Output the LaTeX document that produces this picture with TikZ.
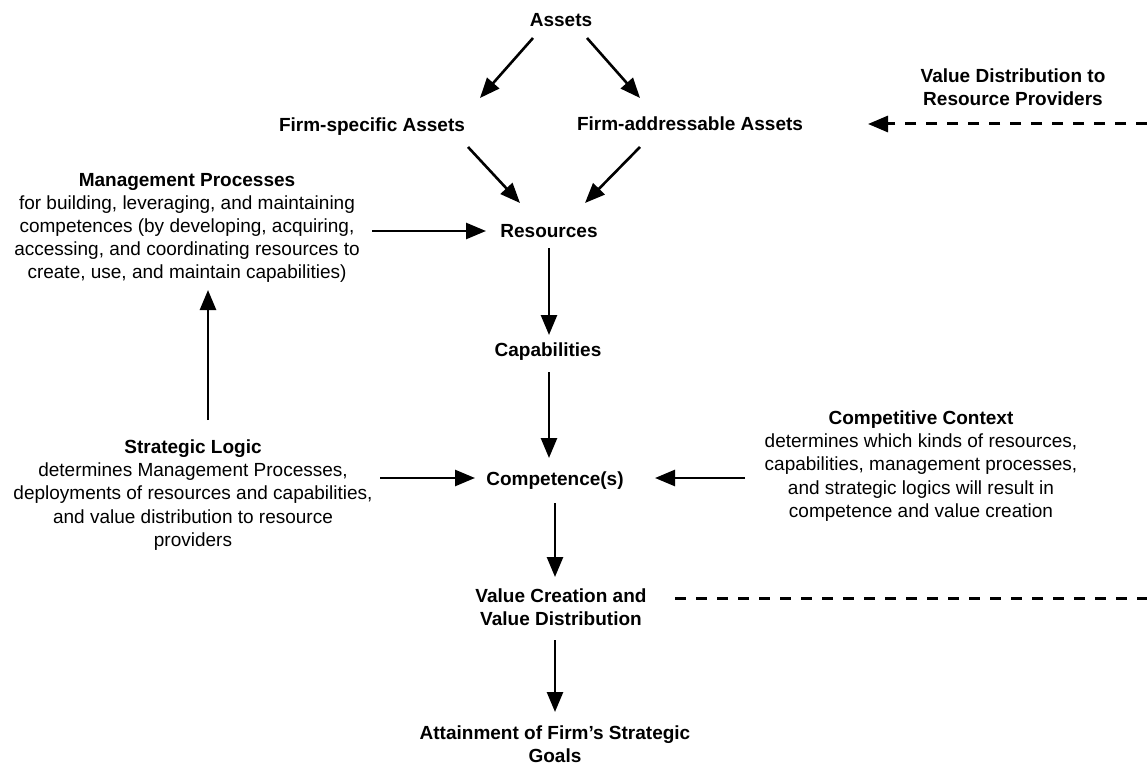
\documentclass[tikz,border=0pt]{standalone}
\usepackage{fontspec}
\setmainfont{Liberation Sans}
\usetikzlibrary{arrows.meta}

\begin{document}
\begin{tikzpicture}[x=0.5pt,y=-0.5pt,
        head/.style={font=\fontsize{9.5}{11.6}\selectfont\bfseries,align=center,inner sep=0pt},
        body/.style={font=\fontsize{9.5}{11.6}\selectfont,align=center,inner sep=0pt},
        arr/.style={line width=1.3pt,-{Triangle[length=10pt,width=8pt]}},
        dashline/.style={line width=1.5pt,dash pattern=on 5.5pt off 5pt}]
        \useasboundingbox (0,0) rectangle (1147,765);
        %% Assets
        \node[head] (assets) at (561,20) {Assets};
        \node[head] (fspec) at (372,127) {Firm-specific Assets};
        \node[head] (faddr) at (690,124) {Firm-addressable Assets};
        \node[head] (vdist) at (1013,87) {Value Distribution to\\Resource Providers};
        %% Main column
        \node[head] (res) at (549,231) {Resources};
        \node[head] (cap) at (548,352) {Capabilities};
        \node[head] (comp) at (555,481) {Competence(s)};
        \node[head] (value) at (561,607) {Value Creation and\\Value Distribution};
        \node[head] (attain) at (555,744) {Attainment of Firm’s Strategic\\Goals};
        %% Side texts
        \node[body] (mgmt) at (187,228) {\textbf{Management Processes}\\for building, leveraging, and maintaining\\competences (by developing, acquiring,\\accessing, and coordinating resources to\\create, use, and maintain capabilities)};
        \node[body] (slogic) at (193,495) {\textbf{Strategic Logic}\\determines Management Processes,\\deployments of resources and capabilities,\\and value distribution to resource\\providers};
        \node[body] (ccontext) at (921,466) {\textbf{Competitive Context}\\determines which kinds of resources,\\capabilities, management processes,\\and strategic logics will result in\\competence and value creation};
        \coordinate (vdtop) at (1147,124);
        \coordinate (vdbot) at (1147,598);
        %% Arrows
        \draw[arr] ([shift={(-28,18)}]assets.center) -- ([shift={(108,-29)}]fspec.center);
        \draw[arr] ([shift={(26,18)}]assets.center) -- ([shift={(-50,-26)}]faddr.center);
        \draw[arr] ([shift={(96,20)}]fspec.center) -- ([shift={(-29,-28)}]res.center);
        \draw[arr] ([shift={(-50,23)}]faddr.center) -- ([shift={(36,-28)}]res.center);
        \draw[arr] ([shift={(185,3)}]mgmt.center) -- ([shift={(-63,0)}]res.center);
        \draw[arr] ([shift={(0,17)}]res.center) -- ([shift={(1,-17)}]cap.center);
        \draw[arr] ([shift={(1,20)}]cap.center) -- ([shift={(-6,-23)}]comp.center);
        \draw[arr] ([shift={(15,-75)}]slogic.center) -- ([shift={(21,62)}]mgmt.center);
        \draw[arr] ([shift={(187,-17)}]slogic.center) -- ([shift={(-80,-3)}]comp.center);
        \draw[arr] ([shift={(-176,12)}]ccontext.center) -- ([shift={(100,-3)}]comp.center);
        \draw[arr] ([shift={(0,22)}]comp.center) -- ([shift={(-6,-30)}]value.center);
        \draw[arr] ([shift={(-6,33)}]value.center) -- ([shift={(0,-32)}]attain.center);
        %% Value distribution
        \draw[dashline] ([shift={(114,-9)}]value.center) -- (vdbot);
        \draw[dashline,-{Triangle[length=10pt,width=8pt]}] (vdtop) -- ([shift={(178,0)}]faddr.center);
    \end{tikzpicture}
\end{document}
